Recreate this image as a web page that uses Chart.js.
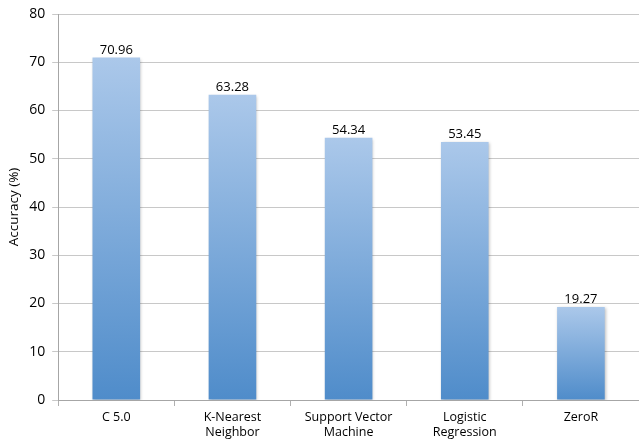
<!DOCTYPE html>
<html>
<head>
<meta charset="utf-8">
<script src="https://cdn.jsdelivr.net/npm/chart.js@4"></script>
<style>
html,body{margin:0;padding:0;background:#fff;}
#wrap{width:639px;height:444px;position:relative;}
</style>
</head>
<body>
<div id="wrap"><canvas id="c"></canvas></div>
<script>
const categories = [["C 5.0"], ["K-Nearest", "Neighbor"], ["Support Vector", "Machine"], ["Logistic", "Regression"], ["ZeroR"]];
const accuracy = [70.96, 63.28, 54.34, 53.45, 19.27];
const valueLabels = ["70.96", "63.28", "54.34", "53.45", "19.27"];
const yTicks = [0, 10, 20, 30, 40, 50, 60, 70, 80];

const FONT = "'Open Sans', sans-serif";

function barGradient(ctx) {
  const chart = ctx.chart;
  const area = chart.chartArea;
  if (!area || ctx.type !== 'data') return '#7aa7d9';
  const ys = chart.scales.y;
  const top = ys.getPixelForValue(ctx.raw);
  const bot = ys.getPixelForValue(0);
  const g = chart.ctx.createLinearGradient(0, top, 0, bot);
  g.addColorStop(0, '#abc8ea');
  g.addColorStop(1, '#4f8cca');
  return g;
}

const labelPlugin = {
  id: 'valueLabels',
  afterDatasetsDraw(chart) {
    const ctx = chart.ctx;
    const meta = chart.getDatasetMeta(0);
    ctx.save();
    ctx.font = "13px " + FONT;
    ctx.fillStyle = '#000';
    ctx.textAlign = 'center';
    ctx.textBaseline = 'bottom';
    meta.data.forEach((bar, i) => {
      ctx.fillText(valueLabels[i], bar.x, bar.y - 1);
    });
    ctx.restore();
  }
};

const shadowPlugin = {
  id: 'barShadow',
  beforeDatasetDraw(chart) {
    const ctx = chart.ctx;
    ctx.save();
    ctx.shadowColor = 'rgba(0,0,0,0.25)';
    ctx.shadowBlur = 3;
    ctx.shadowOffsetX = 1;
    ctx.shadowOffsetY = 1;
  },
  afterDatasetDraw(chart) {
    chart.ctx.restore();
  }
};

new Chart(document.getElementById('c'), {
  type: 'bar',
  data: {
    labels: categories,
    datasets: [{
      data: accuracy,
      backgroundColor: barGradient,
      borderWidth: 0,
      barPercentage: 0.41,
      categoryPercentage: 1.0
    }]
  },
  plugins: [shadowPlugin, labelPlugin],
  options: {
    responsive: true,
    maintainAspectRatio: false,
    animation: false,
    devicePixelRatio: 1,
    layout: { padding: { top: 14, right: 0, left: 6, bottom: 0 } },
    plugins: { legend: { display: false }, tooltip: { enabled: false } },
    scales: {
      x: {
        grid: { display: true, offset: true, drawOnChartArea: false, color: '#b0b0b0', tickLength: 6 },
        border: { color: '#a6a6a6', width: 1 },
        ticks: { color: '#000', font: { family: FONT, size: 12.5 }, maxRotation: 0, padding: 4 }
      },
      y: {
        min: 0, max: 80,
        afterBuildTicks(axis) { axis.ticks = yTicks.map(v => ({ value: v })); },
        grid: { color: '#c8c8c8', tickLength: 6 },
        border: { color: '#a6a6a6', width: 1 },
        ticks: { color: '#000', font: { family: FONT, size: 14, lineHeight: 1.0 }, padding: 7 },
        title: { display: true, text: 'Accuracy (%)', color: '#000', font: { family: FONT, size: 13.5 }, padding: { top: 0, bottom: 0 } }
      }
    }
  }
});
</script>
</body>
</html>
